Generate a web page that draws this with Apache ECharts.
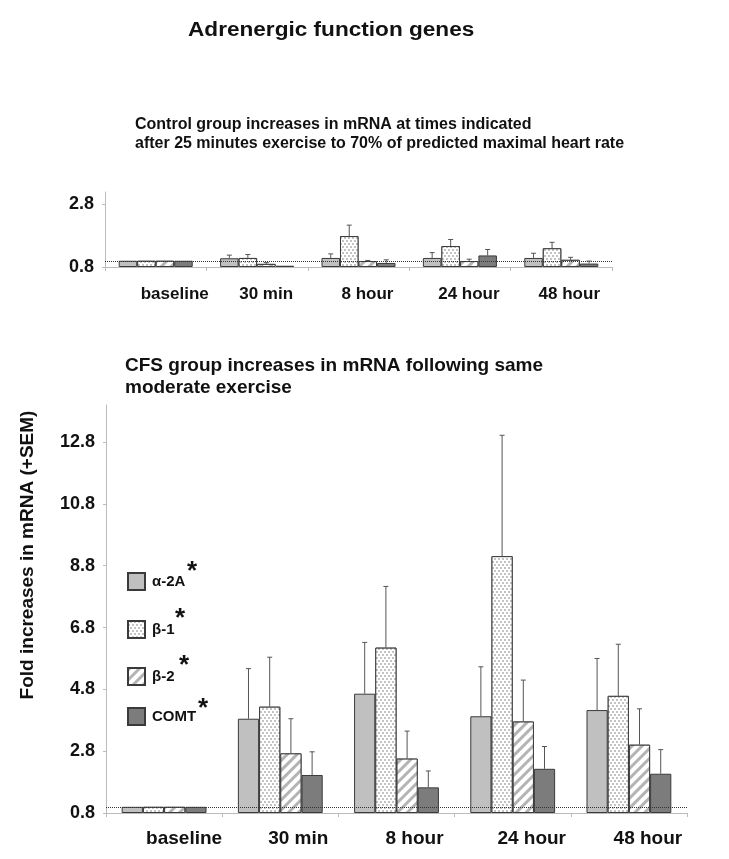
<!DOCTYPE html>
<html><head><meta charset="utf-8">
<script src="https://cdn.jsdelivr.net/npm/echarts@6/dist/echarts.min.js"></script>
<style>html,body{margin:0;padding:0;background:#fff}#c{width:729px;height:859px}</style>
</head><body><div id="c"></div>
<script>
// ---- data ----
const categories = ['baseline', '30 min', '8 hour', '24 hour', '48 hour'];
const genes = ['α-2A', 'β-1', 'β-2', 'COMT'];
const yTickValues = [0.8, 2.8, 4.8, 6.8, 8.8, 10.8, 12.8];

// Control group (fold increase, SEM)
const controlAlpha2A = [1.0, 1.08, 1.09, 1.09, 1.09];
const controlAlpha2ASem = [0, 0.10, 0.13, 0.17, 0.15];
const controlBeta1 = [1.0, 1.09, 1.79, 1.47, 1.40];
const controlBeta1Sem = [0, 0.11, 0.35, 0.21, 0.19];
const controlBeta2 = [1.0, 0.90, 0.99, 0.99, 1.03];
const controlBeta2Sem = [0, 0.04, 0.02, 0.06, 0.08];
const controlCOMT = [1.0, 0.84, 0.93, 1.17, 0.91];
const controlCOMTSem = [0, 0, 0.10, 0.19, 0.08];

// CFS group (fold increase, SEM)
const cfsAlpha2A = [1.0, 3.85, 4.66, 3.93, 4.13];
const cfsAlpha2ASem = [0, 1.62, 1.66, 1.60, 1.67];
const cfsBeta1 = [1.0, 4.24, 6.15, 9.11, 4.59];
const cfsBeta1Sem = [0, 1.60, 1.98, 3.91, 1.67];
const cfsBeta2 = [1.0, 2.73, 2.56, 3.76, 3.01];
const cfsBeta2Sem = [0, 1.12, 0.89, 1.34, 1.16];
const cfsCOMT = [1.0, 2.03, 1.63, 2.23, 2.07];
const cfsCOMTSem = [0, 0.75, 0.53, 0.72, 0.78];

const referenceLevel = 1.0;
const axisBase = 0.8;

// ---- build ----
const FONT = 'Liberation Sans, Arial, sans-serif';
const GAP = 0.27;
const controlMeans = [controlAlpha2A, controlBeta1, controlBeta2, controlCOMT];
const controlSems = [controlAlpha2ASem, controlBeta1Sem, controlBeta2Sem, controlCOMTSem];
const cfsMeans = [cfsAlpha2A, cfsBeta1, cfsBeta2, cfsCOMT];
const cfsSems = [cfsAlpha2ASem, cfsBeta1Sem, cfsBeta2Sem, cfsCOMTSem];

const geneStyles = [
  { color: '#c0c0c0', borderColor: '#3a3a3a', borderWidth: 1 },
  { color: '#ffffff', borderColor: '#3a3a3a', borderWidth: 1,
    decal: { symbol: 'circle', symbolSize: 0.9, color: '#a8a8a8', backgroundColor: '#ffffff',
             dashArrayX: [[2, 2], [0, 2, 2, 0]], dashArrayY: [2, 1] } },
  { color: '#ffffff', borderColor: '#3a3a3a', borderWidth: 1,
    decal: { symbol: 'rect', symbolSize: 1, color: '#b4b4b4', backgroundColor: '#ffffff',
             dashArrayX: [1, 0], dashArrayY: [3, 4], rotation: -Math.PI / 4 } },
  { color: '#7c7c7c', borderColor: '#3a3a3a', borderWidth: 1 }
];

const shift = v => +(v - axisBase).toFixed(4);
const fmt = v => (v + axisBase).toFixed(1);

function errRender(params, api) {
  const cat = api.value(0), g = api.value(1), mean = api.value(2), sem = api.value(3);
  if (!(sem > 0)) return;
  const band = api.size([1, 0])[0];
  const total = band * (1 - GAP), bw = total / 4;
  const cx = api.coord([cat, 0])[0] - total / 2 + (g + 0.5) * bw;
  const y1 = api.coord([cat, mean - axisBase])[1];
  const y2 = api.coord([cat, mean + sem - axisBase])[1];
  return { type: 'group', children: [
    { type: 'line', shape: { x1: cx, y1: y1, x2: cx, y2: y2 }, style: { stroke: '#555', lineWidth: 1 } },
    { type: 'line', shape: { x1: cx - 2.5, y1: y2, x2: cx + 2.5, y2: y2 }, style: { stroke: '#555', lineWidth: 1 } }
  ]};
}

const series = [];
[[controlMeans, controlSems], [cfsMeans, cfsSems]].forEach(([means, sems], gi) => {
  genes.forEach((name, g) => {
    const s = {
      type: 'bar', name: name, xAxisIndex: gi, yAxisIndex: gi,
      data: means[g].map(shift), barGap: '0%', barCategoryGap: (GAP * 100) + '%',
      itemStyle: geneStyles[g], silent: true
    };
    if (g === 0) {
      s.markLine = { silent: true, symbol: 'none', label: { show: false },
        lineStyle: { type: 'dotted', color: '#333', width: 1 },
        data: [{ yAxis: shift(referenceLevel) }] };
    }
    series.push(s);
  });
  const errData = [];
  means.forEach((arr, g) => arr.forEach((m, c) => errData.push([c, g, m, sems[g][c]])));
  series.push({ type: 'custom', xAxisIndex: gi, yAxisIndex: gi, renderItem: errRender,
    data: errData, encode: { x: 0, y: 2 }, z: 5, silent: true });
});

function xAxisFor(gi, fontSize, margin, pads) {
  return {
    type: 'category', gridIndex: gi,
    data: categories.map((c, i) => ({ value: c, textStyle: { padding: [0, 0, 0, pads[i]] } })),
    axisLine: { lineStyle: { color: '#bbb' } },
    axisTick: { show: true, length: 4, lineStyle: { color: '#bbb' } },
    axisLabel: { fontSize: fontSize, fontWeight: 'bold', color: '#111', fontFamily: FONT, margin: margin, interval: 0 }
  };
}
function yAxisFor(gi, maxReal, ticks) {
  const cv = ticks.filter(t => t <= maxReal).map(shift);
  return {
    type: 'value', gridIndex: gi, min: 0, max: shift(maxReal), interval: 2,
    splitLine: { show: false },
    axisLine: { show: true, lineStyle: { color: '#bbb' } },
    axisTick: { show: true, length: 3, lineStyle: { color: '#bbb' }, customValues: cv },
    axisLabel: { formatter: fmt, fontSize: 18, fontWeight: 'bold', color: '#111', fontFamily: FONT,
                 margin: 11, customValues: cv }
  };
}

const legendTops = [572, 620, 667, 707];
const option = {
  animation: false,
  backgroundColor: '#fff',
  title: [
    { text: 'Control group increases in mRNA at times indicated\nafter 25 minutes exercise to 70% of predicted maximal heart rate',
      left: 135, top: 115, padding: 0,
      textStyle: { fontSize: 16, fontWeight: 'bold', color: '#111', fontFamily: FONT, lineHeight: 19 } },
    { text: 'CFS group increases in mRNA following same\nmoderate exercise',
      left: 125, top: 355, padding: 0,
      textStyle: { fontSize: 19, fontWeight: 'bold', color: '#111', fontFamily: FONT, lineHeight: 22 } }
  ],
  grid: [
    { left: 105, top: 192, width: 507, height: 75 },
    { left: 106, top: 405, width: 581, height: 408 }
  ],
  xAxis: [ xAxisFor(0, 17, 19, [38, 18, 18, 18, 16]), xAxisFor(1, 19, 16, [40, 36, 36, 38, 38]) ],
  yAxis: [ yAxisFor(0, 3.2, yTickValues), yAxisFor(1, 14.0, yTickValues) ],
  legend: genes.map((g, i) => ({
    data: [g], left: 127, top: legendTops[i], orient: 'vertical', padding: 0,
    itemWidth: 17, itemHeight: 17, icon: 'rect', selectedMode: false,
    textStyle: { fontSize: 15, fontWeight: 'bold', color: '#111', fontFamily: FONT, padding: [0, 0, 0, 2] }
  })),
  graphic: [
    { type: 'text', x: 188, y: 30, scaleX: 1.13,
      style: { text: 'Adrenergic function genes', font: 'bold 20px ' + FONT, fill: '#111',
               textAlign: 'left', textVerticalAlign: 'middle' } },
    { type: 'text', x: 28, y: 555, rotation: Math.PI / 2,
      style: { text: 'Fold increases in mRNA (+SEM)', font: 'bold 19px ' + FONT, fill: '#111',
               textAlign: 'center', textVerticalAlign: 'middle' } },
    { type: 'text', x: 192, y: 572, style: { text: '*', font: 'bold 26px ' + FONT, fill: '#111', textAlign: 'center', textVerticalAlign: 'middle' } },
    { type: 'text', x: 180, y: 619, style: { text: '*', font: 'bold 26px ' + FONT, fill: '#111', textAlign: 'center', textVerticalAlign: 'middle' } },
    { type: 'text', x: 184, y: 666, style: { text: '*', font: 'bold 26px ' + FONT, fill: '#111', textAlign: 'center', textVerticalAlign: 'middle' } },
    { type: 'text', x: 203, y: 709, style: { text: '*', font: 'bold 26px ' + FONT, fill: '#111', textAlign: 'center', textVerticalAlign: 'middle' } }
  ],
  series: series
};
const chart = echarts.init(document.getElementById('c'), null, { renderer: 'canvas' });
chart.setOption(option);
</script>
</body></html>
